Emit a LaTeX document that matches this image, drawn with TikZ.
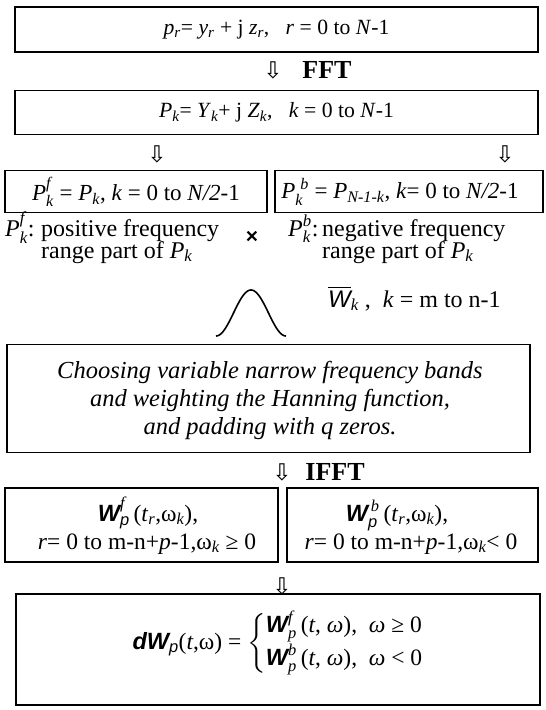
\documentclass[tikz,border=0pt]{standalone}
\usepackage{amsmath}
\usepackage{fontspec}
\setmainfont{Liberation Serif}
\newfontfamily\hsans{Liberation Sans}
\newfontfamily\djv{DejaVu Sans}
\newcommand{\I}[1]{\textit{#1}}
\newcommand{\dsub}[1]{$_{\textit{#1}}$}
\newcommand{\Wb}{{\hsans\bfseries\itshape W}}
\newcommand{\psub}{\textit{\hsans p}}
\tikzset{
  box/.style={draw, line width=1.8pt, inner sep=0pt, align=center},
  lbl/.style={inner sep=0pt, font=\fontsize{24}{24}\selectfont},
  mtxt/.style={inner sep=0pt, font=\fontsize{23.5}{24}\selectfont},
  dnarrow/.style={inner sep=0pt, font=\djv\fontsize{23}{23}\selectfont},
  optxt/.style={inner sep=0pt, font=\bfseries\fontsize{26}{26}\selectfont},
}
\begin{document}
\begin{tikzpicture}[x=1pt,y=-1pt]
\useasboundingbox (0,0) rectangle (546,710);

% row 1
\node[box, minimum width=523pt, minimum height=45pt, font=\fontsize{21.7}{26}\selectfont] (b1) at (276.5,29.5)
  {\I{p}\dsub{r}= \I{y}\dsub{r} + j \I{z}\dsub{r},\ \ \ \I{r} = 0 to \I{N}-1};
\node[dnarrow] (a1) at (273,70) {⇩};
\node[optxt] (fft) at (327,70) {FFT};

% row 2
\node[box, minimum width=523pt, minimum height=44pt, font=\fontsize{21.7}{26}\selectfont] (b2) at (276.5,112.5)
  {\I{P}\dsub{k}= \I{Y}\dsub{k}+ j \I{Z}\dsub{k},\ \ \ \I{k} = 0 to \I{N}-1};
\node[dnarrow] (a2l) at (157,154) {⇩};
\node[dnarrow] (a2r) at (505,154) {⇩};

% row 3
\node[box, minimum width=262pt, minimum height=42pt] (b3l) at (136,191.5) {};
\node[mtxt, font=\fontsize{23}{24}\selectfont] (t3l) at (136,192)
  {\I{P}$^{\I{f}}_{\I{k}}$ = \I{P}\dsub{k}, \I{k} = 0 to \I{N/2}-1};
\node[box, minimum width=268pt, minimum height=42pt] (b3r) at (409,191.5) {};
\node[mtxt, font=\fontsize{23}{24}\selectfont] (t3r) at (400,192)
  {\I{P}$_{\I{k}}^{\;\I{b}}$ = \I{P}\dsub{N-1-k}, \I{k}= 0 to \I{N/2}-1};

% labels
\node[lbl, anchor=base west] (lfp) at (5,236) {\I{P}$^{\I{f}}_{\I{k}}$:};
\node[lbl, anchor=base west] (lf1) at (41,236) {positive frequency};
\node[lbl, anchor=base west] (lf2) at (41,258) {range part of \I{P}\dsub{k}};
\node[lbl, anchor=base west] (lbp) at (288,236) {\I{P}$_{\I{k}}^{\I{b}}$:};
\node[lbl, anchor=base west] (lb1) at (322,236) {negative frequency};
\node[lbl, anchor=base west] (lb2) at (322,258) {range part of \I{P}\dsub{k}};
\node[inner sep=0pt, font=\hsans\bfseries\fontsize{21}{21}\selectfont] (times) at (252,237) {×};
\node[lbl, anchor=base west] (wk) at (328,307)
  {$\overline{\text{\hsans\itshape W}}_{\textit{k}}$ ,\ \ \I{k} = m to n-1};

% Hanning bell
\draw[line width=1.6pt] plot[domain=-1:1, samples=80, smooth]
  ({251+35*\x}, {336-46*(0.5+0.5*cos(180*\x))});

% row 4
\node[box, minimum width=523pt, minimum height=108pt] (b4) at (268.5,398.5) {};
\node[inner sep=0pt, align=center, font=\itshape\fontsize{24.5}{28}\selectfont] (t4) at (270,400)
  {Choosing variable narrow frequency bands\\and weighting the Hanning function,\\and padding with q zeros.};
\node[dnarrow] (a4) at (282,472) {⇩};
\node[optxt] (ifft) at (335,472) {IFFT};

% row 5
\node[box, minimum width=273pt, minimum height=74pt] (b5l) at (141.5,525) {};
\node[mtxt, anchor=base] (t5l1) at (148,521) {\Wb$^{\I{f}}_{\psub}$\,(\I{t}\dsub{r},ω\dsub{k}),};
\node[mtxt, anchor=base] (t5l2) at (147,549) {\I{r}= 0 to m-n+\I{p}-1,ω\dsub{k} ≥ 0};
\node[box, minimum width=251pt, minimum height=74pt] (b5r) at (412.5,525) {};
\node[mtxt, anchor=base] (t5r1) at (397,521) {\Wb$^{\,\I{b}}_{\psub}$\,(\I{t}\dsub{r},ω\dsub{k}),};
\node[mtxt, anchor=base] (t5r2) at (411,549) {\I{r}= 0 to m-n+\I{p}-1,ω\dsub{k}< 0};
\node[dnarrow] (a5) at (282,586) {⇩};

% row 6
\node[box, minimum width=524pt, minimum height=111pt] (b6) at (278,649.5) {};
\node[inner sep=0pt, font=\fontsize{23.5}{26}\selectfont] (t6) at (278,643)
  {{\hsans\bfseries\itshape dW}$_{\psub}$(\I{t},ω) = $\left\{\begin{array}{@{}l@{}}
   \text{\Wb}^{\textit{f}}_{\textit{p}}\text{\,(\I{t}, \I{ω}),\ \ \I{ω} ≥ 0}\\[4pt]
   \text{\Wb}^{\textit{b}}_{\textit{p}}\text{\,(\I{t}, \I{ω}),\ \ \I{ω} < 0}
   \end{array}\right.$};
\end{tikzpicture}
\end{document}
